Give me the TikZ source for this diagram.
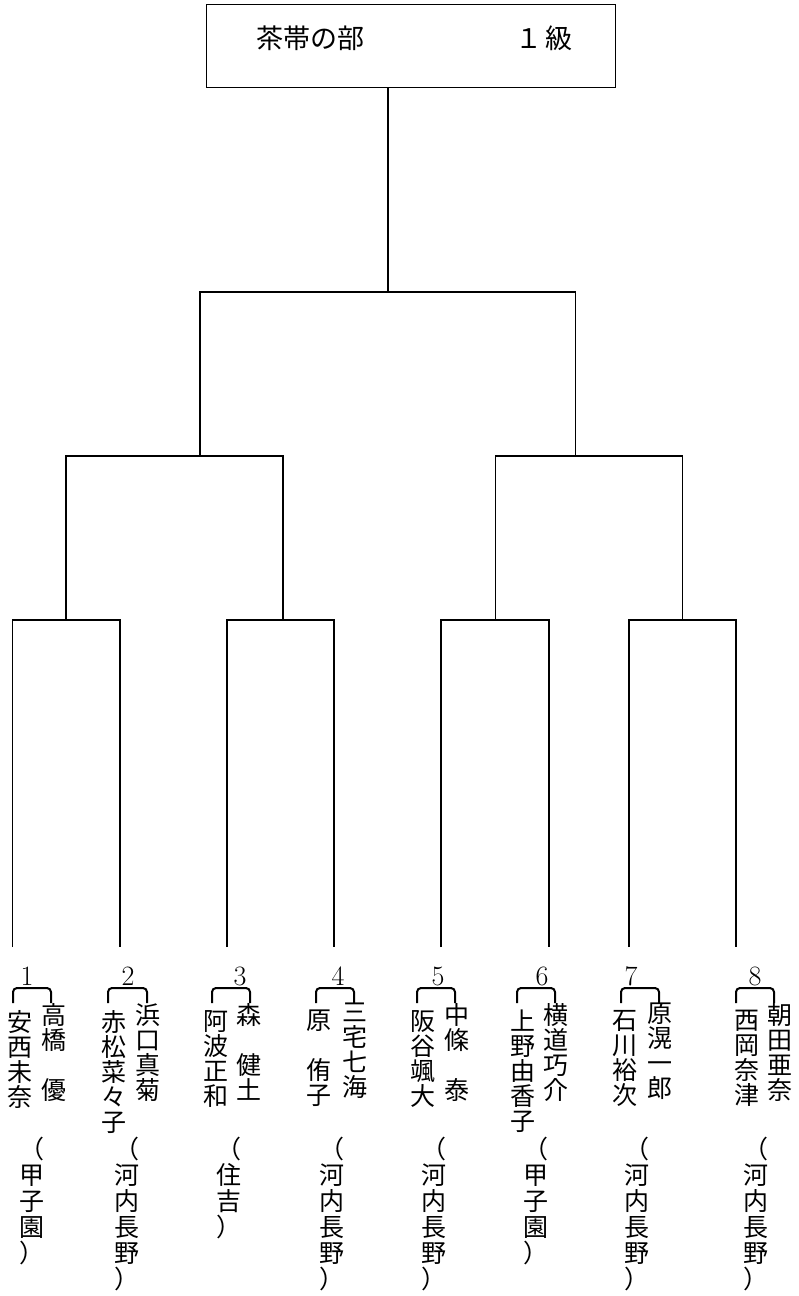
\documentclass[tikz,border=0pt]{standalone}
\usepackage{fontspec}
\newfontfamily\jpfont{Noto Sans CJK JP}
\begin{document}
\begin{tikzpicture}[x=1pt,y=-1pt,
  tree/.style={line width=1.4pt},
  bracketline/.style={line width=2pt, rounded corners=4pt},
  namecol/.style={font=\jpfont\fontsize{25}{25}\selectfont, align=center, inner sep=0pt, anchor=north},
  affcol/.style={font=\jpfont\fontsize{25}{26}\selectfont, align=center, inner sep=0pt, anchor=north},
  numlabel/.style={font=\fontsize{28}{28}\selectfont, inner sep=0pt},
  titletext/.style={font=\jpfont\fontsize{27}{27}\selectfont, inner sep=0pt, anchor=base west}]
\useasboundingbox (0,0) rectangle (798,1296);
% title box
\node[draw, line width=1.2pt, minimum width=409pt, minimum height=83pt, inner sep=0pt, anchor=north west] (title) at (206,4) {};
\node[titletext] (titleL) at (256,48) {茶帯の部};
\node[titletext] (titleR) at (515,48) {１\kern3pt 級};
% tree junctions
\coordinate (r0) at (388,292);
\coordinate (s1) at (200,456);
\coordinate (s2) at (575.7,456);
\coordinate (q1) at (66,620);
\coordinate (q2) at (283,620);
\coordinate (q3) at (495.5,620);
\coordinate (q4) at (682.7,620);
\coordinate (l1) at (12.5,947);
\coordinate (l2) at (120,947);
\coordinate (l3) at (227,947);
\coordinate (l4) at (334,947);
\coordinate (l5) at (441,947);
\coordinate (l6) at (549,947);
\coordinate (l7) at (629,947);
\coordinate (l8) at (736,947);
\draw[tree] (title.south -| r0) -- (r0);
\draw[tree] (s1) |- (r0) -| (s2);
\draw[tree] (q1) |- (s1) -| (q2);
\draw[tree] (q3) |- (s2) -| (q4);
\draw[tree] (l1) |- (q1) -| (l2);
\draw[tree] (l3) |- (q2) -| (l4);
\draw[tree] (l5) |- (q3) -| (l6);
\draw[tree] (l7) |- (q4) -| (l8);
% entries
\foreach \i/\nx/\ba/\bb/\lx/\lt/\rx/\rt/\ax/\at in {
 1/27/13/51/20/{安\\西\\未\\奈}/54/{高\\橋\\　\\優}/32/{（\\甲\\子\\園\\）},
 2/128/108/147/114/{赤\\松\\菜\\々\\子}/148/{浜\\口\\真\\菊}/127/{（\\河\\内\\長\\野\\）},
 3/240/212/250/216/{阿\\波\\正\\和}/249/{森\\　\\健\\土}/229/{（\\住\\吉\\）},
 4/338/316/354/319/{原\\　\\侑\\子}/355/{三\\宅\\七\\海}/332/{（\\河\\内\\長\\野\\）},
 5/438/417/455/423/{阪\\谷\\颯\\大}/457/{中\\條\\　\\泰}/434/{（\\河\\内\\長\\野\\）},
 6/542/517/555/523/{上\\野\\由\\香\\子}/556/{横\\道\\巧\\介}/536/{（\\甲\\子\\園\\）},
 7/631/621/659/625/{石\\川\\裕\\次}/660/{原\\滉\\一\\郎}/637/{（\\河\\内\\長\\野\\）},
 8/755/736/774/747/{西\\岡\\奈\\津}/780/{朝\\田\\亜\\奈}/756/{（\\河\\内\\長\\野\\）}}
{
 \node[numlabel] (n\i) at (\nx,976) {\i};
 \draw[bracketline] (\ba,1003) -- (\ba,988) -- (\bb,988) -- (\bb,1003);
 \node[namecol] (L\i) at (\lx,1010) {\lt};
 \node[namecol] (R\i) at (\rx,1003) {\rt};
 \node[affcol] (A\i) at (\ax,1137) {\at};
}
\end{tikzpicture}
\end{document}
